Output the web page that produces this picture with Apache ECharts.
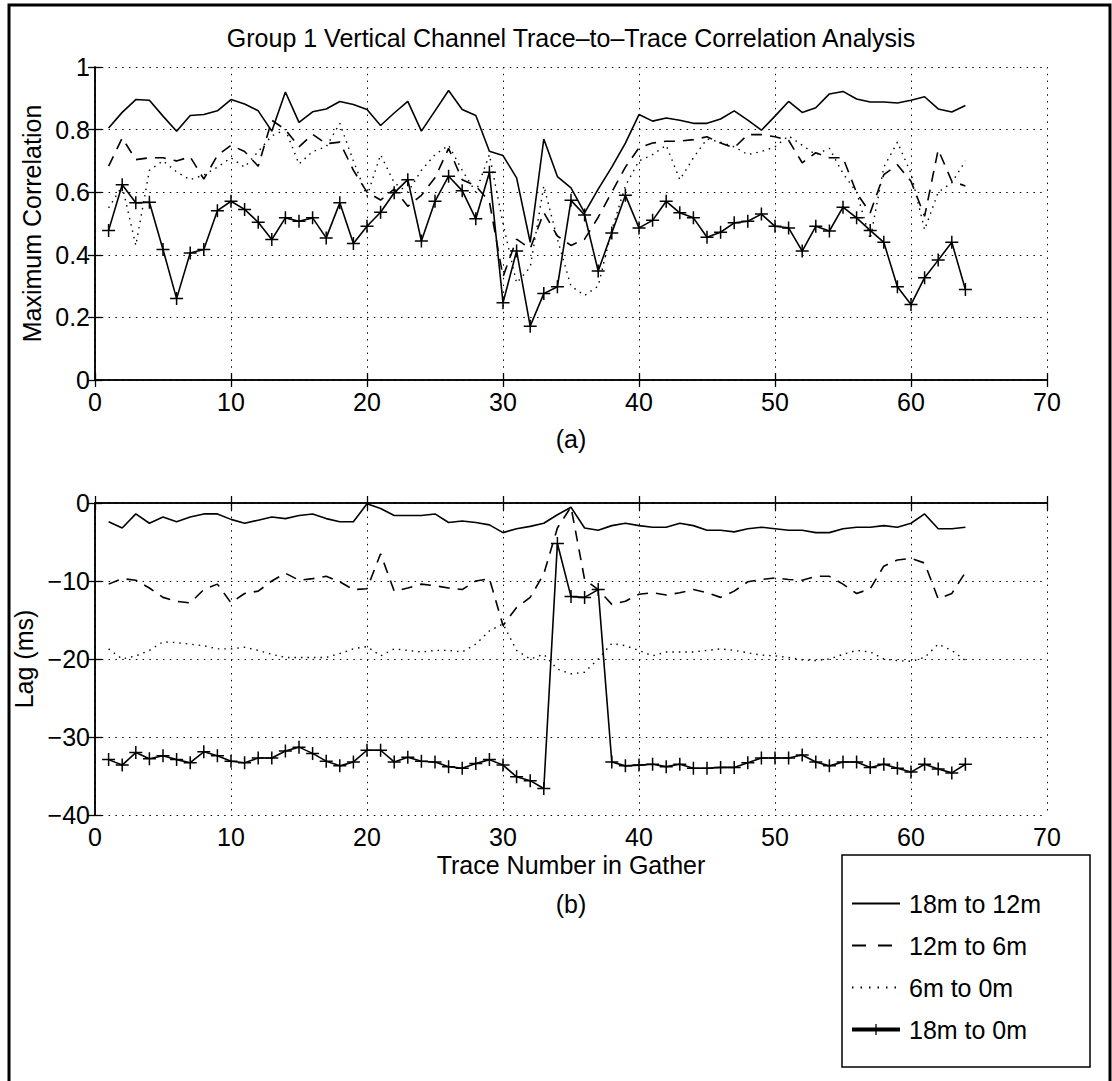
<!DOCTYPE html>
<html>
<head>
<meta charset="utf-8">
<script src="https://cdn.jsdelivr.net/npm/echarts@6/dist/echarts.min.js"></script>
<style>
html,body{margin:0;padding:0;background:#fff;}
#chart{width:1112px;height:1081px;}
</style>
</head>
<body>
<div id="chart"></div>
<script>
// ---------------- DATA ----------------
const traces = [1,2,3,4,5,6,7,8,9,10,11,12,13,14,15,16,17,18,19,20,21,22,23,24,25,26,27,28,29,30,31,32,33,34,35,36,37,38,39,40,41,42,43,44,45,46,47,48,49,50,51,52,53,54,55,56,57,58,59,60,61,62,63,64];
const seriesNames = ['18m to 12m', '12m to 6m', '6m to 0m', '18m to 0m'];

const xTicks = [0, 10, 20, 30, 40, 50, 60, 70];
const corrTicks = [0, 0.2, 0.4, 0.6, 0.8, 1];
const lagTicks = [-40, -30, -20, -10, 0];

// (a) Maximum correlation
const corr18to12 = [0.805,0.855,0.896,0.894,0.843,0.795,0.845,0.848,0.86,0.896,
  0.882,0.86,0.795,0.92,0.823,0.857,0.866,0.89,0.88,0.864,
  0.813,0.853,0.89,0.795,0.86,0.925,0.864,0.845,0.731,0.717,
  0.646,0.44,0.77,0.65,0.614,0.534,0.61,0.68,0.757,0.848,
  0.827,0.837,0.83,0.82,0.82,0.834,0.86,0.83,0.798,0.843,
  0.89,0.855,0.87,0.914,0.922,0.898,0.888,0.888,0.885,0.894,
  0.905,0.866,0.856,0.877];
const corr12to6 = [0.683,0.773,0.704,0.71,0.71,0.70,0.713,0.642,0.717,0.75,
  0.73,0.683,0.83,0.80,0.745,0.785,0.755,0.76,0.67,0.6,
  0.575,0.61,0.555,0.59,0.646,0.74,0.64,0.62,0.57,0.33,
  0.45,0.42,0.535,0.46,0.43,0.45,0.52,0.6,0.68,0.742,
  0.757,0.763,0.763,0.768,0.777,0.757,0.742,0.784,0.784,0.777,
  0.766,0.694,0.726,0.71,0.71,0.598,0.534,0.656,0.688,0.635,
  0.523,0.736,0.635,0.62];
const corr6to0 = [0.55,0.62,0.43,0.67,0.70,0.665,0.64,0.655,0.68,0.71,
  0.68,0.73,0.78,0.8,0.69,0.73,0.745,0.82,0.7,0.587,
  0.72,0.63,0.6,0.67,0.72,0.75,0.67,0.6,0.72,0.5,
  0.31,0.36,0.62,0.45,0.3,0.27,0.3,0.48,0.62,0.7,
  0.72,0.75,0.64,0.71,0.77,0.76,0.745,0.72,0.73,0.745,
  0.78,0.75,0.72,0.74,0.66,0.6,0.45,0.68,0.76,0.66,
  0.48,0.6,0.63,0.7];
const corr18to0 = [0.478,0.624,0.566,0.568,0.417,0.26,0.406,0.417,0.541,0.571,
  0.545,0.504,0.449,0.518,0.507,0.518,0.454,0.566,0.436,0.491,
  0.536,0.598,0.64,0.444,0.571,0.651,0.605,0.515,0.664,0.247,
  0.412,0.172,0.276,0.298,0.574,0.527,0.348,0.47,0.59,0.486,
  0.51,0.571,0.534,0.518,0.456,0.472,0.502,0.507,0.53,0.491,
  0.486,0.412,0.491,0.476,0.552,0.518,0.478,0.44,0.298,0.241,
  0.327,0.383,0.44,0.289];

// (b) Lag (ms)
const lag18to12 = [-2.4,-3.2,-1.4,-2.6,-1.8,-2.4,-1.8,-1.4,-1.4,-2.1,
  -2.6,-2.2,-1.8,-2.0,-1.6,-1.4,-2.0,-2.4,-2.4,-0.1,
  -0.7,-1.6,-1.6,-1.6,-1.4,-2.5,-2.3,-2.5,-2.8,-3.8,
  -3.3,-3.0,-2.6,-1.5,-0.55,-3.2,-3.5,-2.9,-2.6,-2.9,
  -3.1,-3.1,-2.6,-2.9,-3.5,-3.5,-3.7,-3.3,-3.1,-3.3,
  -3.5,-3.5,-3.8,-3.8,-3.3,-3.1,-3.1,-2.9,-3.1,-2.6,
  -1.4,-3.3,-3.3,-3.1];
const lag12to6 = [-10.4,-9.7,-9.9,-10.9,-12.1,-12.6,-12.8,-11.1,-10.4,-12.8,
  -11.6,-11.3,-10.0,-9.0,-9.9,-9.7,-9.4,-10.1,-11.1,-11.0,
  -6.5,-11.3,-10.9,-10.4,-10.6,-10.9,-11.1,-10.0,-9.7,-15.7,
  -13.4,-12.1,-9.1,-3.2,-0.5,-9.8,-11.1,-13.0,-12.6,-11.7,
  -11.5,-11.8,-11.5,-11.1,-11.5,-12.1,-11.3,-10.1,-9.8,-9.6,
  -9.8,-9.9,-9.4,-9.4,-10.4,-11.6,-11.0,-8.1,-7.3,-7.1,
  -7.7,-12.3,-11.6,-8.9];
const lag6to0 = [-18.7,-20.0,-19.6,-18.9,-17.8,-17.9,-18.1,-18.3,-18.7,-18.7,
  -18.5,-18.9,-19.4,-19.8,-19.8,-19.8,-19.8,-19.3,-18.7,-18.4,
  -19.6,-18.7,-18.9,-19.1,-18.9,-18.9,-19.1,-18.1,-16.4,-15.5,
  -18.9,-20.0,-19.4,-21.3,-21.9,-21.7,-20.0,-18.0,-18.3,-18.9,
  -19.6,-19.1,-19.1,-19.1,-18.9,-18.7,-18.9,-19.2,-19.5,-19.6,
  -19.8,-20.1,-20.2,-20.0,-19.4,-18.9,-19.1,-20.0,-20.2,-20.3,
  -19.8,-18.1,-18.9,-20.2];
const lag18to0 = [-32.9,-33.6,-32.0,-32.8,-32.4,-32.9,-33.3,-31.9,-32.4,-33.1,
  -33.3,-32.7,-32.7,-31.8,-31.3,-32.1,-33.1,-33.7,-33.2,-31.7,
  -31.7,-33.2,-32.6,-33.1,-33.2,-33.8,-34.0,-33.4,-32.9,-33.6,
  -35.1,-35.6,-36.6,-5.2,-12.0,-12.1,-11.1,-33.2,-33.7,-33.6,
  -33.5,-33.8,-33.5,-34.0,-34.0,-33.9,-33.9,-33.3,-32.7,-32.7,
  -32.7,-32.3,-33.2,-33.7,-33.2,-33.2,-33.9,-33.5,-34.0,-34.5,
  -33.5,-34.1,-34.6,-33.5];

// ---------------- CHART ----------------
const FONT = "'Liberation Sans', Arial, Helvetica, sans-serif";
const FS = 25;
const chart = echarts.init(document.getElementById('chart'), null, {renderer: 'svg'});

const plusPath = 'path://M11.5,0h3v11.5h11.5v3h-11.5v11.5h-3v-11.5h-11.5v-3h11.5z';
const lineStyles = [
  {color: '#000', width: 1.6, type: 'solid'},
  {color: '#000', width: 1.6, type: [11, 8]},
  {color: '#000', width: 1.4, type: [1.5, 5]},
  {color: '#000', width: 1.6, type: 'solid'}
];
const pair = arr => traces.map((t, i) => [t, arr[i]]);
const minusFmt = v => String(v).replace('-', '\u2212');

function mkSeries(arrs, axisIdx) {
  return arrs.map((arr, k) => ({
    name: seriesNames[k],
    type: 'line',
    xAxisIndex: axisIdx,
    yAxisIndex: axisIdx,
    data: pair(arr),
    lineStyle: lineStyles[k],
    symbol: k === 3 ? plusPath : 'none',
    symbolSize: 13,
    showSymbol: k === 3,
    // transparent item colour hides the legend dot of plain-line series
    itemStyle: {color: k === 3 ? '#000' : 'rgba(0,0,0,0)'},
    emphasis: {disabled: true},
    silent: true,
    z: k === 3 ? 4 : 3
  }));
}

const tickStyle = {show: true, inside: true, length: 7, lineStyle: {color: '#000', width: 1.3}};
const axisLine = {show: true, lineStyle: {color: '#000', width: 1.5}};
const gridLine = {show: true, lineStyle: {color: '#000', width: 1, type: [1.5, 5.3]}};
const labelStyle = {color: '#000', fontSize: FS, fontFamily: FONT};
const nameStyle = {color: '#000', fontSize: FS, fontFamily: FONT};

function xAx(gridIndex, pos, main, name) {
  return {
    type: 'value', gridIndex, position: pos,
    min: xTicks[0], max: xTicks[xTicks.length - 1], interval: xTicks[1] - xTicks[0],
    axisLine, axisTick: tickStyle,
    axisLabel: main ? Object.assign({margin: 9}, labelStyle) : {show: false},
    splitLine: main ? gridLine : {show: false},
    name: name || '', nameLocation: 'middle', nameGap: 37,
    nameTextStyle: nameStyle
  };
}
function yAx(gridIndex, pos, main, ticks, name, nameGap, fmt) {
  return {
    type: 'value', gridIndex, position: pos,
    min: ticks[0], max: ticks[ticks.length - 1], interval: ticks[1] - ticks[0],
    axisLine, axisTick: tickStyle,
    axisLabel: main ? Object.assign({margin: 5, formatter: fmt}, labelStyle) : {show: false},
    splitLine: main ? gridLine : {show: false},
    name: name || '', nameLocation: 'middle', nameGap: nameGap || 40,
    nameTextStyle: nameStyle
  };
}

const titleStyle = {fontSize: FS, fontWeight: 'normal', color: '#000', fontFamily: FONT};
const option = {
  animation: false,
  backgroundColor: '#fff',
  textStyle: {fontFamily: FONT},
  title: [
    {text: 'Group 1 Vertical Channel Trace\u2013to\u2013Trace Correlation Analysis',
     left: 571, top: 25, textAlign: 'center', padding: 0, textStyle: titleStyle},
    {text: '(a)', left: 571, top: 426, textAlign: 'center', padding: 0, textStyle: titleStyle},
    {text: '(b)', left: 571, top: 891, textAlign: 'center', padding: 0, textStyle: titleStyle}
  ],
  grid: [
    {left: 95, top: 67, width: 952, height: 313, containLabel: false},
    {left: 95, top: 503, width: 952, height: 312, containLabel: false}
  ],
  xAxis: [
    xAx(0, 'bottom', true),
    xAx(1, 'bottom', true, 'Trace Number in Gather'),
    xAx(0, 'top', false),
    xAx(1, 'top', false)
  ],
  yAxis: [
    yAx(0, 'left', true, corrTicks, 'Maximum Correlation', 46),
    yAx(1, 'left', true, lagTicks, 'Lag (ms)', 53, minusFmt),
    yAx(0, 'right', false, corrTicks),
    yAx(1, 'right', false, lagTicks)
  ],
  legend: {
    orient: 'vertical',
    left: 850, top: 891,
    itemWidth: 48, itemHeight: 14, itemGap: 17,
    padding: 0,
    selectedMode: false,
    textStyle: {color: '#000', fontSize: FS, fontFamily: FONT, lineHeight: 24, padding: [0, 0, 0, 4]},
    data: [
      {name: seriesNames[0]},
      {name: seriesNames[1], lineStyle: {type: [14, 12]}},
      {name: seriesNames[2], lineStyle: {type: [1.5, 7]}},
      {name: seriesNames[3], lineStyle: {width: 4}}
    ]
  },
  graphic: [
    {type: 'polyline', silent: true, z: 0,
     shape: {points: [[9, 1081], [9, 5], [1110, 5], [1110, 1081]]},
     style: {stroke: '#000', lineWidth: 3, fill: null}},
    {type: 'rect', silent: true, z: 0,
     shape: {x: 842, y: 855, width: 248, height: 212},
     style: {stroke: '#000', lineWidth: 1.5, fill: '#fff'}}
  ],
  series: [].concat(
    mkSeries([corr18to12, corr12to6, corr6to0, corr18to0], 0),
    mkSeries([lag18to12, lag12to6, lag6to0, lag18to0], 1)
  )
};
chart.setOption(option);
</script>
</body>
</html>
